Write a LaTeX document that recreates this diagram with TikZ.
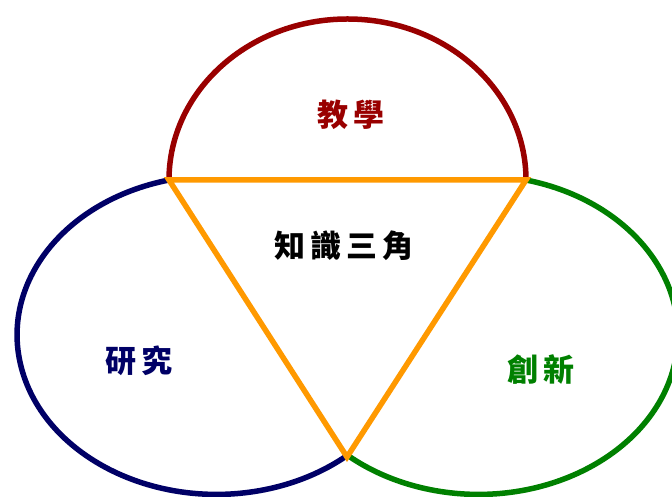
\documentclass[tikz,border=0pt]{standalone}
\usepackage{fontspec}
\newfontfamily\cjk{Noto Sans CJK TC}
\definecolor{cred}{HTML}{990000}
\definecolor{cblue}{HTML}{000066}
\definecolor{cgreen}{HTML}{008000}
\definecolor{corange}{HTML}{FF9900}
\begin{document}
\begin{tikzpicture}[x=1pt,y=1pt,
  ring/.style={line width=5.5pt},
  lbl/.style={font=\cjk\bfseries\fontsize{31}{31}\selectfont, inner sep=0pt}]
\useasboundingbox (0,0) rectangle (672,497);
\coordinate (A) at (169,317);
\coordinate (B) at (526,317);
\coordinate (C) at (347,40);
% blue ellipse arc (research)
\draw[ring, cblue] (A) arc[start angle=103.8, end angle=310.9, x radius=199.5, y radius=159.5];
% green ellipse arc (innovation)
\draw[ring, cgreen] (B) arc[start angle=76.2, end angle=-130.9, x radius=199.5, y radius=159.5];
% red half ellipse (teaching)
\draw[ring, cred] (A) arc[start angle=180, end angle=0, x radius=178.5, y radius=161];
% orange triangle
\draw[ring, corange, line join=miter] (A) -- (B) -- (C) -- cycle;
% labels
\node[lbl, text=cred] (teach) at (351,382) {教\hspace{5pt}學};
\node[lbl, text=black] (tri) at (344,251) {知\hspace{5pt}識\hspace{5pt}三\hspace{5pt}角};
\node[lbl, text=cblue] (res) at (139,136) {研\hspace{5pt}究};
\node[lbl, text=cgreen] (inn) at (541,127) {創\hspace{5pt}新};
\end{tikzpicture}
\end{document}
